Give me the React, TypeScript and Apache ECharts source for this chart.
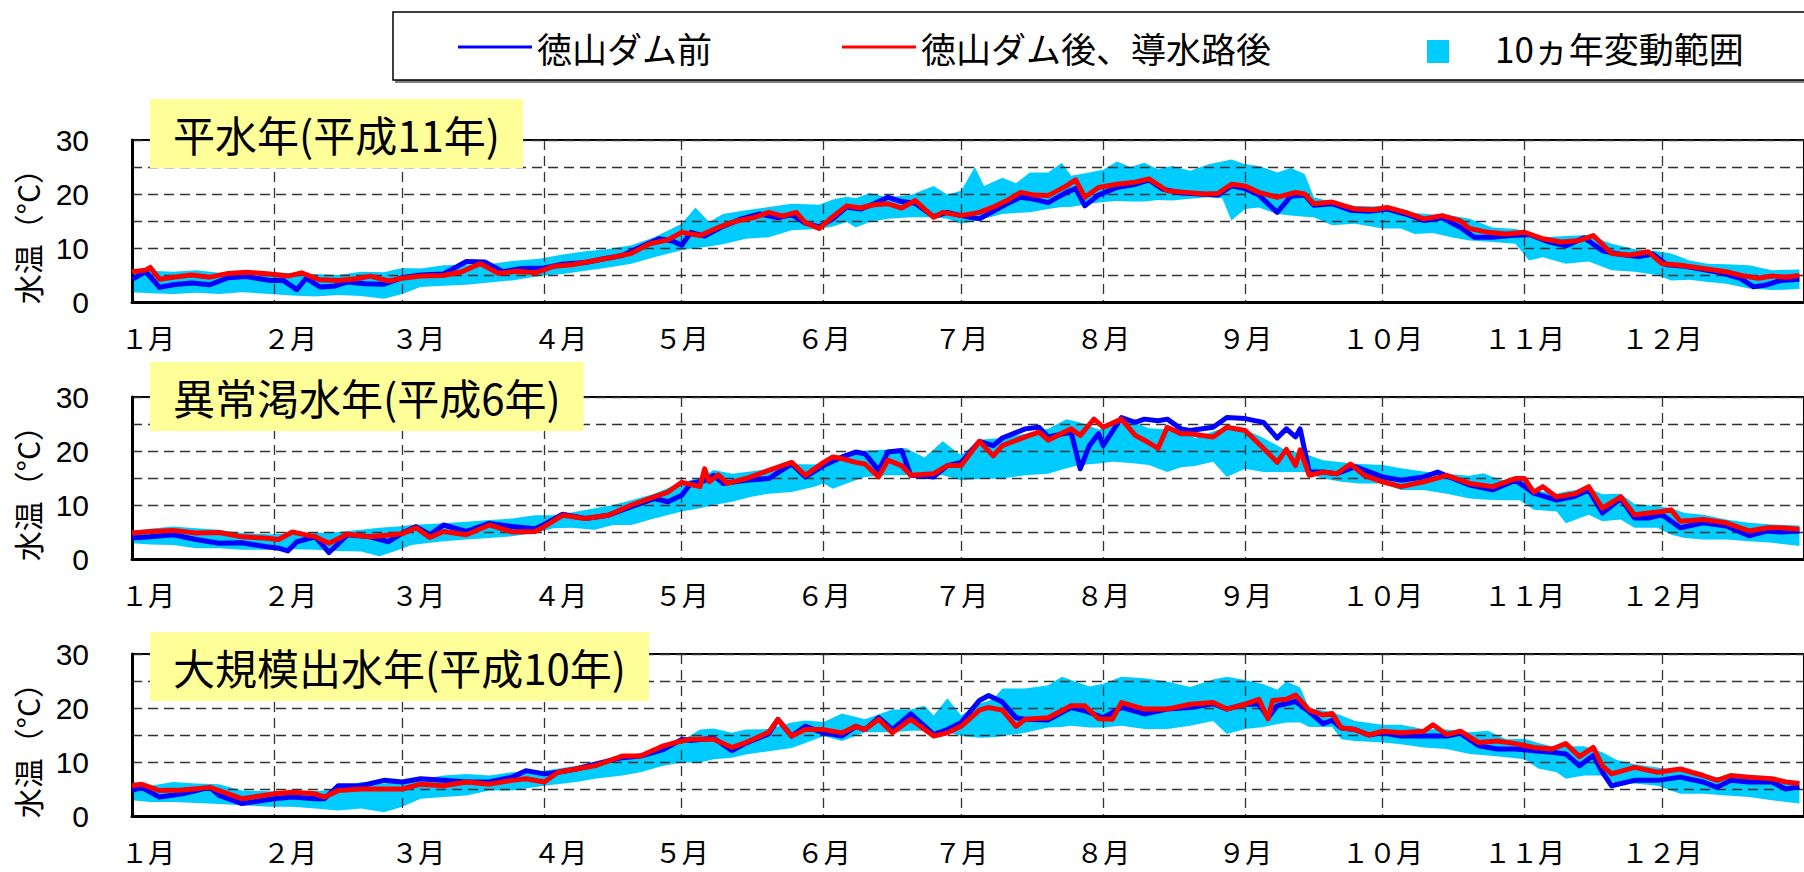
import React, { useEffect, useRef } from "react";
import * as echarts from "echarts";

// ---------- axis / text data ----------
const MONTH_START = [0, 31, 59, 90, 120, 151, 181, 212, 243, 273, 304, 334];
const YEAR_DAYS = 365;
const MONTH_LABELS = ["１月", "２月", "３月", "４月", "５月", "６月", "７月", "８月", "９月", "１０月", "１１月", "１２月"];
const Y_LABEL_VALUES = [0, 10, 20, 30];
const PANEL_TITLES = ["平水年(平成11年)", "異常渇水年(平成6年)", "大規模出水年(平成10年)"];
const LEGEND_NAMES = ["徳山ダム前", "徳山ダム後、導水路後", "10ヵ年変動範囲"];
const Y_AXIS_NAME = "水温（°C）";

// ---------- values: [month, day, °C] ----------
const BLUE_H11 = [
  [1,1,4.2],[1,4,5.6],[1,7,2.7],[1,10,3.2],[1,14,3.5],[1,18,3.2],[1,22,4.5],[1,26,4.7],[1,31,4.0],
  [2,3,4.0],[2,6,2.3],[2,8,4.4],[2,11,2.8],[2,14,2.9],[2,17,3.7],[2,21,3.4],[2,25,3.3],
  [3,1,4.5],[3,5,5.0],[3,10,5.2],[3,15,7.5],[3,19,7.4],[3,23,5.6],[3,27,6.2],
  [4,1,6.3],[4,5,7.0],[4,10,7.3],[4,14,8.0],[4,18,8.6],[4,22,10.2],[4,26,11.7],[4,29,11.3],
  [5,1,10.5],[5,3,12.9],[5,6,12.2],[5,10,14.0],[5,14,15.4],[5,18,16.3],[5,22,15.6],[5,25,16.2],[5,28,14.6],[5,31,13.9],
  [6,3,15.4],[6,6,17.6],[6,9,17.2],[6,12,18.2],[6,15,19.4],[6,18,18.6],[6,21,18.3],[6,25,15.8],[6,28,16.6],
  [7,1,16.0],[7,5,15.4],[7,8,16.8],[7,11,18.2],[7,14,19.4],[7,17,19.0],[7,20,18.4],[7,24,20.3],[7,26,21.0],[7,28,17.8],[7,31,19.8],
  [8,4,21.2],[8,8,21.8],[8,11,22.6],[8,14,20.9],[8,18,20.2],[8,22,20.0],[8,26,19.8],[8,29,21.5],
  [9,1,21.0],[9,4,19.8],[9,8,16.6],[9,11,19.6],[9,14,19.8],[9,16,17.9],[9,20,18.2],[9,24,17.0],[9,28,16.8],
  [10,2,17.2],[10,6,16.3],[10,10,15.1],[10,14,15.6],[10,18,13.8],[10,21,12.0],[10,25,12.0],[10,29,12.3],
  [11,2,12.5],[11,6,11.2],[11,10,10.4],[11,14,11.9],[11,18,9.5],[11,22,8.8],[11,26,8.4],[11,29,8.9],
  [12,2,6.9],[12,6,6.6],[12,10,6.0],[12,14,5.4],[12,18,4.4],[12,21,2.8],[12,24,3.2],[12,27,4.0],[12,31,4.2]
];
const RED_H11 = [
  [1,1,5.6],[1,4,5.9],[1,5,6.4],[1,7,4.2],[1,10,4.6],[1,14,5.0],[1,18,4.6],[1,22,5.3],[1,26,5.5],[1,31,5.2],
  [2,4,4.8],[2,7,5.4],[2,11,4.1],[2,15,4.0],[2,19,4.3],[2,22,4.8],[2,26,3.9],
  [3,1,4.4],[3,5,4.8],[3,10,4.9],[3,14,5.6],[3,18,7.1],[3,22,5.3],[3,26,5.7],[3,30,5.4],
  [4,3,6.6],[4,7,6.9],[4,12,7.7],[4,16,8.3],[4,20,9.0],[4,24,10.8],[4,28,11.5],
  [5,1,12.9],[5,5,12.3],[5,9,13.8],[5,13,15.0],[5,17,15.7],[5,20,16.6],[5,23,15.9],[5,26,16.6],[5,28,14.7],[5,31,13.6],
  [6,3,15.8],[6,6,17.8],[6,9,17.4],[6,12,18.0],[6,15,18.2],[6,18,17.4],[6,21,18.8],[6,23,17.2],[6,25,15.7],[6,27,16.6],
  [7,1,16.0],[7,5,16.6],[7,8,17.6],[7,11,18.8],[7,14,20.3],[7,17,19.8],[7,20,19.7],[7,24,21.5],[7,26,22.6],[7,28,19.4],[7,31,21.2],
  [8,4,21.8],[8,8,22.2],[8,11,22.8],[8,15,20.6],[8,19,20.3],[8,23,20.0],[8,26,20.1],[8,29,21.8],
  [9,1,21.5],[9,4,20.3],[9,8,19.4],[9,12,20.3],[9,14,20.0],[9,16,18.2],[9,20,18.5],[9,25,17.2],[9,29,17.1],
  [10,2,17.5],[10,6,16.6],[10,10,15.4],[10,14,16.0],[10,18,15.0],[10,20,13.6],[10,24,12.9],[10,28,12.6],
  [11,1,12.9],[11,5,11.7],[11,9,11.1],[11,13,11.4],[11,16,12.3],[11,20,9.0],[11,24,8.7],[11,28,9.3],
  [12,1,7.1],[12,5,6.8],[12,10,6.2],[12,15,5.6],[12,19,4.8],[12,22,4.4],[12,25,4.8],[12,28,4.6],[12,31,4.9]
];
// band: [month, day, min, max]
const BAND_H11 = [
  [1,1,1.8,5.2],[1,5,1.6,5.8],[1,10,1.5,5.6],[1,15,1.7,5.9],[1,20,1.5,5.4],[1,25,1.8,5.8],[1,31,1.5,5.6],
  [2,5,1.2,5.3],[2,10,1.0,5.2],[2,15,1.3,5.0],[2,20,1.1,5.6],[2,25,0.6,5.5],
  [3,1,1.5,6.3],[3,5,2.8,6.2],[3,10,3.0,6.8],[3,15,3.2,6.9],[3,20,3.6,7.0],[3,25,4.0,7.6],[3,31,4.8,8.0],
  [4,5,5.2,8.8],[4,10,5.8,9.4],[4,15,6.4,9.8],[4,20,7.1,10.5],[4,25,8.3,12.0],
  [5,1,9.6,14.5],[5,4,10.0,17.5],[5,7,10.3,14.8],[5,10,10.7,16.3],[5,15,11.7,17.0],[5,20,12.0,17.6],[5,25,13.3,18.2],[5,31,13.5,18.0],
  [6,3,14.0,19.0],[6,6,14.8,19.5],[6,8,13.8,19.2],[6,11,14.8,20.2],[6,15,15.4,19.4],[6,20,15.7,19.8],[6,25,15.7,21.5],[6,28,15.4,19.9],
  [7,1,14.5,20.6],[7,4,15.0,25.0],[7,6,15.4,21.5],[7,10,16.3,23.0],[7,13,16.5,22.0],[7,16,16.6,24.0],[7,20,17.2,24.0],[7,23,17.6,25.8],[7,25,17.6,23.4],[7,29,18.2,24.0],
  [8,1,18.5,24.5],[8,4,18.7,26.0],[8,7,18.6,25.0],[8,10,18.6,25.8],[8,13,18.9,24.6],[8,16,18.8,25.2],[8,20,19.1,24.3],[8,24,19.4,25.5],[8,27,19.2,26.0],[8,29,15.1,26.4],
  [9,1,17.2,25.5],[9,4,17.5,25.2],[9,8,16.3,24.0],[9,11,16.0,24.8],[9,14,15.8,23.7],[9,16,15.7,19.4],[9,20,14.2,18.5],[9,25,14.5,17.8],
  [10,1,13.6,17.7],[10,5,13.6,17.2],[10,8,12.6,16.5],[10,12,12.8,16.2],[10,16,12.0,16.0],[10,20,11.4,15.4],[10,25,11.1,13.8],[10,30,10.8,13.5],
  [11,2,7.7,13.0],[11,5,8.3,12.0],[11,10,7.1,12.2],[11,15,7.5,12.4],[11,20,5.9,10.8],[11,25,5.6,9.8],[11,30,5.0,9.4],
  [12,3,4.0,9.0],[12,7,4.1,7.7],[12,11,3.7,7.1],[12,15,3.4,7.0],[12,20,2.5,6.8],[12,25,2.2,5.9],[12,31,2.4,6.0]
];

const BLUE_H6 = [
  [1,1,3.9],[1,5,4.1],[1,10,4.5],[1,15,3.6],[1,20,2.9],[1,25,3.0],[1,30,2.3],
  [2,2,2.0],[2,4,1.5],[2,6,3.2],[2,10,4.1],[2,13,1.2],[2,15,2.8],[2,17,4.5],[2,22,4.1],[2,26,3.2],
  [3,1,4.8],[3,4,6.0],[3,7,4.5],[3,10,6.3],[3,15,5.1],[3,20,6.6],[3,25,6.0],[3,30,5.6],
  [4,1,6.4],[4,5,8.3],[4,10,7.5],[4,15,8.1],[4,20,9.7],[4,25,11.2],[4,28,10.6],
  [5,1,11.8],[5,3,14.0],[5,6,14.5],[5,8,15.5],[5,10,14.0],[5,15,14.6],[5,20,14.9],[5,25,17.6],[5,28,15.2],
  [6,1,17.3],[6,5,18.9],[6,8,19.8],[6,10,19.5],[6,13,16.4],[6,15,19.8],[6,18,20.1],[6,20,15.5],[6,25,15.2],[6,28,17.3],
  [7,1,17.9],[7,5,21.8],[7,8,21.0],[7,10,22.4],[7,15,24.1],[7,18,24.4],[7,20,22.6],[7,25,23.5],[7,27,16.7],[7,29,21.0],[7,31,23.2],
  [8,1,21.0],[8,5,26.2],[8,8,25.3],[8,10,25.9],[8,13,25.6],[8,15,25.9],[8,18,24.1],[8,20,23.8],[8,25,24.4],[8,28,26.2],
  [9,1,26.0],[9,5,25.3],[9,8,22.4],[9,10,24.1],[9,12,22.6],[9,13,24.1],[9,15,16.1],[9,18,16.1],[9,21,15.8],[9,25,17.1],
  [10,1,15.2],[10,5,14.6],[10,10,15.2],[10,13,16.1],[10,15,15.4],[10,20,13.7],[10,25,12.8],[10,30,14.6],
  [11,3,12.2],[11,8,10.9],[11,12,11.6],[11,15,12.8],[11,18,8.5],[11,22,11.2],[11,25,7.6],[11,28,7.6],
  [12,1,8.2],[12,5,5.8],[12,10,6.7],[12,15,6.1],[12,20,4.3],[12,24,5.2],[12,27,5.0],[12,31,5.2]
];
const RED_H6 = [
  [1,1,4.8],[1,5,5.1],[1,10,5.3],[1,15,4.8],[1,20,4.9],[1,25,4.1],[1,30,3.9],
  [2,2,3.6],[2,5,5.0],[2,10,4.1],[2,13,2.9],[2,17,4.6],[2,22,4.1],[2,27,4.5],
  [3,1,4.7],[3,4,5.8],[3,7,4.0],[3,10,5.1],[3,15,4.5],[3,20,6.3],[3,25,5.0],[3,30,5.1],
  [4,1,6.0],[4,5,8.1],[4,10,7.5],[4,15,8.1],[4,20,10.0],[4,25,11.5],[4,28,12.4],
  [5,1,14.2],[5,3,13.8],[5,5,13.4],[5,6,16.7],[5,7,14.3],[5,9,15.6],[5,11,14.0],[5,15,14.9],[5,20,16.4],[5,25,17.9],[5,28,15.5],
  [6,1,17.9],[6,3,18.9],[6,5,18.6],[6,8,17.9],[6,10,17.6],[6,13,15.2],[6,15,18.3],[6,18,17.3],[6,20,15.5],[6,25,15.8],[6,28,17.3],
  [7,1,17.3],[7,5,21.8],[7,8,19.1],[7,10,21.0],[7,15,22.6],[7,18,23.5],[7,20,22.0],[7,25,24.1],[7,27,22.9],[7,30,25.9],
  [8,1,24.4],[8,5,25.9],[8,8,22.9],[8,10,22.0],[8,13,20.5],[8,15,24.4],[8,18,23.2],[8,20,23.2],[8,25,22.6],[8,28,24.4],
  [9,1,23.8],[9,5,20.5],[9,8,17.9],[9,10,20.3],[9,12,17.3],[9,13,20.2],[9,15,15.5],[9,18,16.1],[9,21,15.8],[9,24,17.6],[9,27,15.5],
  [10,1,14.3],[10,5,13.4],[10,10,14.3],[10,15,15.5],[10,20,14.0],[10,25,13.4],[10,30,14.9],
  [11,1,14.9],[11,3,12.4],[11,5,13.4],[11,8,11.5],[11,12,12.1],[11,15,13.4],[11,18,9.4],[11,22,11.5],[11,25,8.2],[11,28,8.5],
  [12,1,8.8],[12,3,9.1],[12,5,7.0],[12,10,7.3],[12,15,6.7],[12,20,5.2],[12,24,5.8],[12,27,5.8],[12,31,5.5]
];
const BAND_H6 = [
  [1,1,2.9,5.1],[1,5,2.7,5.6],[1,10,2.6,6.0],[1,15,2.0,5.7],[1,20,2.0,5.4],[1,25,1.7,4.8],[1,31,1.7,4.6],
  [2,5,1.8,4.7],[2,10,1.7,4.8],[2,15,1.5,5.0],[2,20,1.4,5.4],[2,24,0.5,5.8],[2,28,1.6,6.0],
  [3,3,2.6,6.3],[3,10,3.3,6.6],[3,15,3.6,6.9],[3,20,3.9,7.2],[3,25,4.2,7.5],[3,30,4.8,8.1],
  [4,3,5.7,8.1],[4,7,5.8,8.6],[4,12,5.4,9.4],[4,16,6.3,10.0],[4,20,6.3,10.9],[4,25,7.5,12.1],
  [5,1,8.8,14.2],[5,5,9.4,15.0],[5,8,10.0,16.5],[5,12,10.6,15.8],[5,16,11.5,16.2],[5,20,12.1,16.7],[5,25,12.4,17.6],[5,30,13.4,17.5],
  [6,1,14.0,17.9],[6,3,13.0,18.5],[6,6,14.0,18.9],[6,10,15.2,20.1],[6,15,15.5,20.3],[6,19,15.5,20.5],[6,23,15.6,18.8],[6,27,15.5,21.8],
  [7,1,14.6,19.2],[7,5,14.8,22.1],[7,10,14.9,22.4],[7,15,15.5,23.2],[7,20,15.8,24.1],[7,24,16.8,25.9],[7,27,17.4,25.3],[7,31,17.7,24.0],
  [8,3,18.0,24.7],[8,7,17.8,25.5],[8,11,17.4,24.2],[8,15,16.1,24.0],[8,18,17.0,24.5],[8,21,17.2,22.4],[8,25,18.0,23.6],[8,28,15.2,24.5],
  [9,1,16.7,24.0],[9,5,16.1,22.4],[9,10,16.1,20.1],[9,14,16.1,19.5],[9,18,14.9,18.3],[9,22,14.3,17.9],[9,26,14.0,17.6],
  [10,1,14.0,17.4],[10,5,12.8,16.8],[10,10,12.8,16.2],[10,15,12.1,15.8],[10,20,11.2,15.4],[10,23,11.0,15.9],[10,27,10.9,14.6],[10,31,10.9,14.9],
  [11,3,9.1,12.8],[11,8,8.8,12.1],[11,10,6.6,12.5],[11,15,8.2,13.1],[11,18,7.0,12.0],[11,22,7.3,12.1],[11,25,5.8,10.2],[11,30,5.8,9.8],
  [12,3,4.5,9.4],[12,6,3.9,8.5],[12,10,3.6,8.2],[12,15,3.6,7.3],[12,20,3.3,6.7],[12,25,3.0,6.4],[12,31,2.4,6.2]
];

const BLUE_H10 = [
  [1,1,4.7],[1,3,5.3],[1,7,3.5],[1,12,4.1],[1,18,5.3],[1,20,3.8],[1,25,2.3],
  [2,1,3.2],[2,5,3.5],[2,10,3.2],[2,12,3.2],[2,15,5.6],[2,20,5.6],[2,25,6.6],
  [3,1,6.3],[3,5,6.9],[3,10,6.6],[3,15,6.3],[3,20,6.3],[3,25,7.2],[3,28,8.4],
  [4,1,7.8],[4,4,8.1],[4,8,8.7],[4,12,9.6],[4,18,10.8],[4,22,11.1],[4,27,12.3],
  [5,1,14.2],[5,3,14.0],[5,8,14.4],[5,12,12.1],[5,15,13.5],[5,20,15.2],[5,22,17.9],[5,25,14.8],[5,28,16.6],
  [6,1,15.4],[6,5,14.8],[6,8,16.6],[6,10,16.0],[6,13,18.2],[6,16,16.0],[6,20,18.9],[6,25,15.1],[6,28,16.0],
  [7,1,17.3],[7,5,21.4],[7,7,22.3],[7,10,21.1],[7,13,18.2],[7,15,17.9],[7,20,17.8],[7,25,20.1],[7,28,19.5],
  [8,1,18.2],[8,5,20.1],[8,10,18.9],[8,15,19.8],[8,20,20.1],[8,25,20.8],[8,28,19.8],
  [9,1,20.7],[9,4,20.7],[9,6,18.2],[9,8,20.4],[9,12,21.2],[9,15,19.3],[9,18,17.1],[9,20,17.7],[9,22,16.3],[9,25,16.0],[9,28,15.0],
  [10,1,15.4],[10,5,14.8],[10,10,14.8],[10,15,14.8],[10,18,15.3],[10,22,13.0],[10,26,12.4],[10,30,12.4],
  [11,3,12.1],[11,7,11.8],[11,10,11.5],[11,13,9.3],[11,16,11.2],[11,18,8.1],[11,20,5.6],[11,25,6.6],[11,30,6.6],
  [12,5,7.2],[12,10,6.3],[12,13,5.3],[12,16,6.6],[12,20,6.3],[12,25,6.3],[12,28,5.0],[12,31,5.4]
];
const RED_H10 = [
  [1,1,5.6],[1,3,5.9],[1,7,4.7],[1,12,4.8],[1,18,5.3],[1,20,4.7],[1,25,3.2],
  [2,1,4.1],[2,5,4.4],[2,10,4.1],[2,12,3.5],[2,15,4.7],[2,20,5.0],[2,25,5.0],
  [3,1,5.0],[3,5,5.9],[3,10,5.6],[3,15,6.3],[3,20,5.9],[3,25,6.6],[3,28,6.9],
  [4,1,6.3],[4,4,8.1],[4,8,8.7],[4,12,9.3],[4,18,11.1],[4,22,11.1],[4,27,13.0],
  [5,1,13.9],[5,3,14.2],[5,8,14.2],[5,12,12.7],[5,15,13.6],[5,20,15.5],[5,22,17.9],[5,25,14.8],[5,28,16.0],
  [6,1,16.0],[6,5,15.4],[6,8,16.6],[6,10,16.0],[6,13,17.9],[6,16,15.4],[6,20,17.9],[6,25,14.8],[6,28,15.4],
  [7,1,16.6],[7,5,19.6],[7,7,20.1],[7,10,19.6],[7,13,16.6],[7,15,17.9],[7,20,18.2],[7,25,20.4],[7,28,20.4],[7,31,18.0],
  [8,3,17.9],[8,5,21.0],[8,10,19.8],[8,15,19.8],[8,20,20.7],[8,25,21.0],[8,28,19.8],
  [9,1,20.7],[9,4,21.6],[9,6,18.0],[9,7,21.4],[9,10,21.6],[9,12,22.4],[9,15,19.6],[9,18,18.7],[9,20,19.0],[9,22,16.3],[9,25,16.0],[9,28,15.0],
  [10,1,15.7],[10,5,15.4],[10,10,15.7],[10,12,16.9],[10,15,15.1],[10,18,15.7],[10,22,13.6],[10,26,13.9],[10,30,13.4],
  [11,3,12.7],[11,7,12.4],[11,10,13.4],[11,13,11.0],[11,16,12.7],[11,18,9.3],[11,20,7.8],[11,25,9.0],[11,30,8.1],
  [12,5,8.7],[12,10,7.5],[12,13,6.6],[12,16,7.5],[12,20,7.2],[12,25,6.9],[12,28,6.3],[12,31,6.0]
];
const BAND_H10 = [
  [1,1,2.9,6.3],[1,5,2.6,5.6],[1,10,2.6,6.3],[1,15,2.4,6.0],[1,20,2.2,5.9],[1,25,2.0,4.7],[1,31,1.7,4.6],
  [2,5,1.7,4.4],[2,10,1.4,4.6],[2,15,1.0,5.0],[2,20,1.4,6.3],[2,25,0.7,6.0],
  [3,1,1.7,6.6],[3,5,3.2,6.8],[3,10,3.5,7.5],[3,15,3.8,7.8],[3,20,4.7,7.5],[3,25,4.7,8.1],
  [4,1,5.6,8.4],[4,8,6.3,9.3],[4,12,6.9,9.9],[4,18,7.5,10.8],[4,22,8.1,11.4],[4,27,9.3,13.3],
  [5,1,9.9,14.0],[5,5,9.9,16.0],[5,8,10.5,16.2],[5,12,10.8,15.4],[5,15,11.4,16.0],[5,20,12.0,16.1],[5,25,12.6,17.3],[5,28,13.5,17.7],
  [6,1,14.8,17.4],[6,5,13.9,19.0],[6,10,15.5,17.9],[6,16,15.5,19.7],[6,20,15.8,19.7],[6,23,15.8,20.4],[6,25,15.8,18.6],[6,28,15.5,21.8],
  [7,1,14.8,18.6],[7,5,14.5,20.8],[7,8,14.6,21.6],[7,10,14.8,23.6],[7,15,15.4,23.6],[7,20,16.4,24.2],[7,23,16.5,25.8],[7,25,16.7,25.2],[7,29,16.4,24.0],
  [8,1,16.4,24.5],[8,5,16.7,25.8],[8,10,16.1,25.5],[8,15,16.1,24.9],[8,20,16.7,23.9],[8,25,17.6,25.3],[8,28,15.2,25.8],
  [9,1,16.1,25.2],[9,5,16.5,24.4],[9,8,17.0,23.4],[9,10,17.3,24.9],[9,13,17.3,23.8],[9,15,16.5,20.0],[9,20,16.5,19.2],[9,22,14.2,18.6],[9,25,13.9,17.6],
  [10,1,13.6,16.9],[10,5,13.3,16.9],[10,10,12.7,16.1],[10,15,12.4,16.0],[10,20,11.5,15.5],[10,24,11.2,15.8],[10,28,10.9,14.2],
  [11,1,10.5,14.3],[11,4,8.8,13.5],[11,8,8.1,12.7],[11,10,6.9,12.9],[11,14,7.5,12.9],[11,18,7.5,11.8],[11,21,6.0,10.4],[11,25,6.0,9.6],[11,30,5.6,9.0],
  [12,5,4.1,8.4],[12,10,4.1,7.2],[12,15,3.8,7.2],[12,20,3.5,6.9],[12,25,2.9,6.6],[12,31,2.3,6.3]
];

// ---------- styles / layout ----------
const BLUE = "#0000FF";
const RED = "#FF0000";
const CYAN = "#00CCFF";
const TITLE_BG = "#FFFF99";
const GRID_LEFT = 132;
const GRID_RIGHT = -18;
const GRID_TOPS = [140, 397, 654];
const GRID_HEIGHT = 162;
const TITLE_TOPS = [99, 362, 632];
const LABEL_SHIFT_DAYS = [3.5, 3.5, 3.5, 3.5, 0, 0, 0, 0, 0, 0, 0, 0];
const LINE_WIDTH = 5;
const JP_FONT = "'Noto Sans CJK JP', 'Noto Sans', sans-serif";
const NUM_FONT = "'Liberation Sans', Arial, sans-serif";

const toDay = (m: number, d: number) => MONTH_START[m - 1] + d - 1;

const PANELS = [
  { title: PANEL_TITLES[0], blue: BLUE_H11, red: RED_H11, band: BAND_H11 },
  { title: PANEL_TITLES[1], blue: BLUE_H6, red: RED_H6, band: BAND_H6 },
  { title: PANEL_TITLES[2], blue: BLUE_H10, red: RED_H10, band: BAND_H10 },
];

const LABEL_VALUES = MONTH_START.map((s, i) => s + LABEL_SHIFT_DAYS[i]);

function monthLabel(v: number): string {
  for (let i = 0; i < LABEL_VALUES.length; i++) {
    if (Math.abs(LABEL_VALUES[i] - v) < 0.01) return MONTH_LABELS[i];
  }
  return "";
}

function buildOption() {
  const grid: any[] = [];
  const xAxis: any[] = [];
  const yAxis: any[] = [];
  const series: any[] = [];
  const title: any[] = [];
  const dash = { type: [10, 6], color: "#333333", width: 1.3 };

  PANELS.forEach((p, i) => {
    grid.push({
      left: GRID_LEFT,
      right: GRID_RIGHT,
      top: GRID_TOPS[i],
      height: GRID_HEIGHT,
      show: true,
      borderColor: "#000",
      borderWidth: 2,
      backgroundColor: "transparent",
    });
    xAxis.push({
      type: "value",
      gridIndex: i,
      min: 0,
      max: YEAR_DAYS,
      z: 3,
      axisLine: { show: true, onZero: false, lineStyle: { color: "#000", width: 3 } },
      axisTick: { show: false, customValues: MONTH_START },
      axisLabel: {
        customValues: LABEL_VALUES,
        formatter: (v: number) => monthLabel(v),
        fontSize: 27,
        fontFamily: JP_FONT,
        color: "#000",
        margin: 22,
      },
      splitLine: { show: true, lineStyle: dash },
    });
    yAxis.push({
      type: "value",
      gridIndex: i,
      min: 0,
      max: 30,
      interval: 5,
      z: 3,
      name: Y_AXIS_NAME,
      nameLocation: "middle",
      nameRotate: 90,
      nameGap: 90,
      nameTextStyle: { fontSize: 30, fontFamily: JP_FONT, color: "#000", padding: [0, 16, 0, 0] },
      axisLine: { show: true, lineStyle: { color: "#000", width: 3 } },
      axisTick: { show: false },
      axisLabel: {
        customValues: Y_LABEL_VALUES,
        fontSize: 30,
        fontFamily: NUM_FONT,
        color: "#000",
        margin: 43,
      },
      splitLine: { show: true, lineStyle: dash },
    });
    title.push({
      text: p.title,
      left: 150,
      top: TITLE_TOPS[i],
      backgroundColor: TITLE_BG,
      padding: [12, 23, 12, 23],
      z: 6,
      textStyle: { fontSize: 42, fontWeight: "normal", fontFamily: JP_FONT, color: "#000", lineHeight: 45 },
    });
    const bandRows = p.band.map((r) => [toDay(r[0], r[1]), r[2], r[3]]);
    series.push({
      type: "custom",
      name: LEGEND_NAMES[2],
      coordinateSystem: "cartesian2d",
      xAxisIndex: i,
      yAxisIndex: i,
      data: bandRows,
      encode: { x: 0, y: [1, 2] },
      itemStyle: { color: CYAN },
      silent: true,
      z: 2,
      renderItem: (params: any, api: any) => {
        if (params.dataIndex !== 0) return null;
        const upper = bandRows.map((r) => api.coord([r[0], r[2]]));
        const lower = bandRows.map((r) => api.coord([r[0], r[1]])).reverse();
        return {
          type: "polygon",
          shape: { points: upper.concat(lower) },
          style: { fill: CYAN, stroke: "none" },
        };
      },
    });
    series.push({
      type: "line",
      name: LEGEND_NAMES[0],
      xAxisIndex: i,
      yAxisIndex: i,
      data: p.blue.map((r) => [toDay(r[0], r[1]), r[2]]),
      symbol: "none",
      color: BLUE,
      lineStyle: { width: LINE_WIDTH, color: BLUE, join: "round" },
      z: 4,
    });
    series.push({
      type: "line",
      name: LEGEND_NAMES[1],
      xAxisIndex: i,
      yAxisIndex: i,
      data: p.red.map((r) => [toDay(r[0], r[1]), r[2]]),
      symbol: "none",
      color: RED,
      lineStyle: { width: LINE_WIDTH, color: RED, join: "round" },
      z: 5,
    });
  });

  const lineIcon = "path://M0 0M74 36M0 16.5H74V19.5H0Z";
  const squareIcon = "path://M0 0M74 36M26 11H48V34H26Z";

  return {
    animation: false,
    backgroundColor: "#fff",
    title,
    grid,
    xAxis,
    yAxis,
    series,
    legend: {
      left: 458,
      top: 29,
      padding: 0,
      itemWidth: 74,
      itemHeight: 36,
      itemGap: 130,
      selectedMode: false,
      symbolKeepAspect: true,
      itemStyle: { borderWidth: 0 },
      textStyle: { fontSize: 35, fontFamily: JP_FONT, color: "#000", lineHeight: 36 },
      data: [
        { name: LEGEND_NAMES[0], icon: lineIcon },
        { name: LEGEND_NAMES[1], icon: lineIcon },
        { name: LEGEND_NAMES[2], icon: squareIcon, textStyle: { padding: [0, 0, 0, 15] } },
      ],
    },
    graphic: [
      { type: "rect", z: 0, silent: true, shape: { x: 395, y: 15, width: 1500, height: 68 }, style: { fill: "#808080" } },
      { type: "rect", z: 1, silent: true, shape: { x: 393, y: 12, width: 1500, height: 68 }, style: { fill: "#fff", stroke: "#000", lineWidth: 1.5 } },
    ],
  };
}

export default function App() {
  const ref = useRef<HTMLDivElement>(null);
  useEffect(() => {
    if (!ref.current) return;
    const chart = echarts.init(ref.current, undefined, { renderer: "svg" });
    chart.setOption(buildOption() as any);
    return () => chart.dispose();
  }, []);
  return (
    <div
      ref={ref}
      style={{ position: "fixed", left: 0, top: 0, width: 1804, height: 872, background: "#fff" }}
    />
  );
}
